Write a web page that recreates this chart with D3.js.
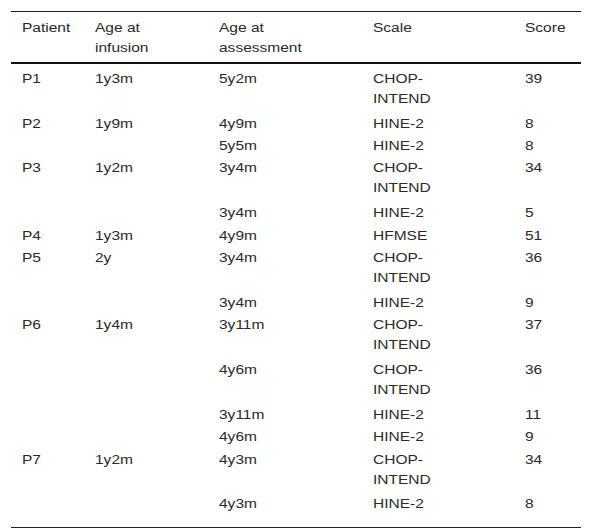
<!DOCTYPE html>
<html><head><meta charset="utf-8">
<script src="https://cdn.jsdelivr.net/npm/d3@7"></script>
<style>body{margin:0;background:#fff;}</style>
</head><body>
<script>
var headers = [["Patient"], ["Age at", "infusion"], ["Age at", "assessment"], ["Scale"], ["Score"]];
var patients = ["P1", "P2", "", "P3", "", "P4", "P5", "", "P6", "", "", "", "P7", ""];
var infusion = ["1y3m", "1y9m", "", "1y2m", "", "1y3m", "2y", "", "1y4m", "", "", "", "1y2m", ""];
var assessment = ["5y2m", "4y9m", "5y5m", "3y4m", "3y4m", "4y9m", "3y4m", "3y4m", "3y11m", "4y6m", "3y11m", "4y6m", "4y3m", "4y3m"];
var scales = ["CHOP-|INTEND", "HINE-2", "HINE-2", "CHOP-|INTEND", "HINE-2", "HFMSE", "CHOP-|INTEND", "HINE-2", "CHOP-|INTEND", "CHOP-|INTEND", "HINE-2", "HINE-2", "CHOP-|INTEND", "HINE-2"];
var scores = ["39", "8", "8", "34", "5", "51", "36", "9", "37", "36", "11", "9", "34", "8"];

var width = 592, height = 531;
var colX = [22, 95, 219, 373, 525];
var lineH = 20, rowUnit = 22.4;
var svg = d3.select("body").append("svg").attr("width", width).attr("height", height)
    .style("font-family", "Liberation Sans, Arial, sans-serif").style("font-size", "13.5px");

// centre y of the first line of a cell
function cell(x, yc, lines) {
    lines.forEach(function(t, k) {
        svg.append("text")
            .attr("transform", "translate(" + x + "," + (yc + k * lineH) + ") scale(1.15,1)")
            .attr("dy", "0.35em").attr("fill", "#2a2a2a").text(t);
    });
}

svg.append("line").attr("x1", 11).attr("x2", 581).attr("y1", 11.5).attr("y2", 11.5).attr("stroke", "#222").attr("stroke-width", 1);
headers.forEach(function(h, i) { cell(colX[i], 27, h); });
svg.append("line").attr("x1", 11).attr("x2", 581).attr("y1", 63).attr("y2", 63).attr("stroke", "#111").attr("stroke-width", 2);

var y = 78;
scales.forEach(function(s, i) {
    var sc = s.split("|");
    var cols = [[patients[i]], [infusion[i]], [assessment[i]], sc, [scores[i]]];
    cols.forEach(function(c, j) { cell(colX[j], y, c); });
    y += sc.length * rowUnit;
});
svg.append("line").attr("x1", 11).attr("x2", 581).attr("y1", 527.5).attr("y2", 527.5).attr("stroke", "#222").attr("stroke-width", 1);
</script>
</body></html>
